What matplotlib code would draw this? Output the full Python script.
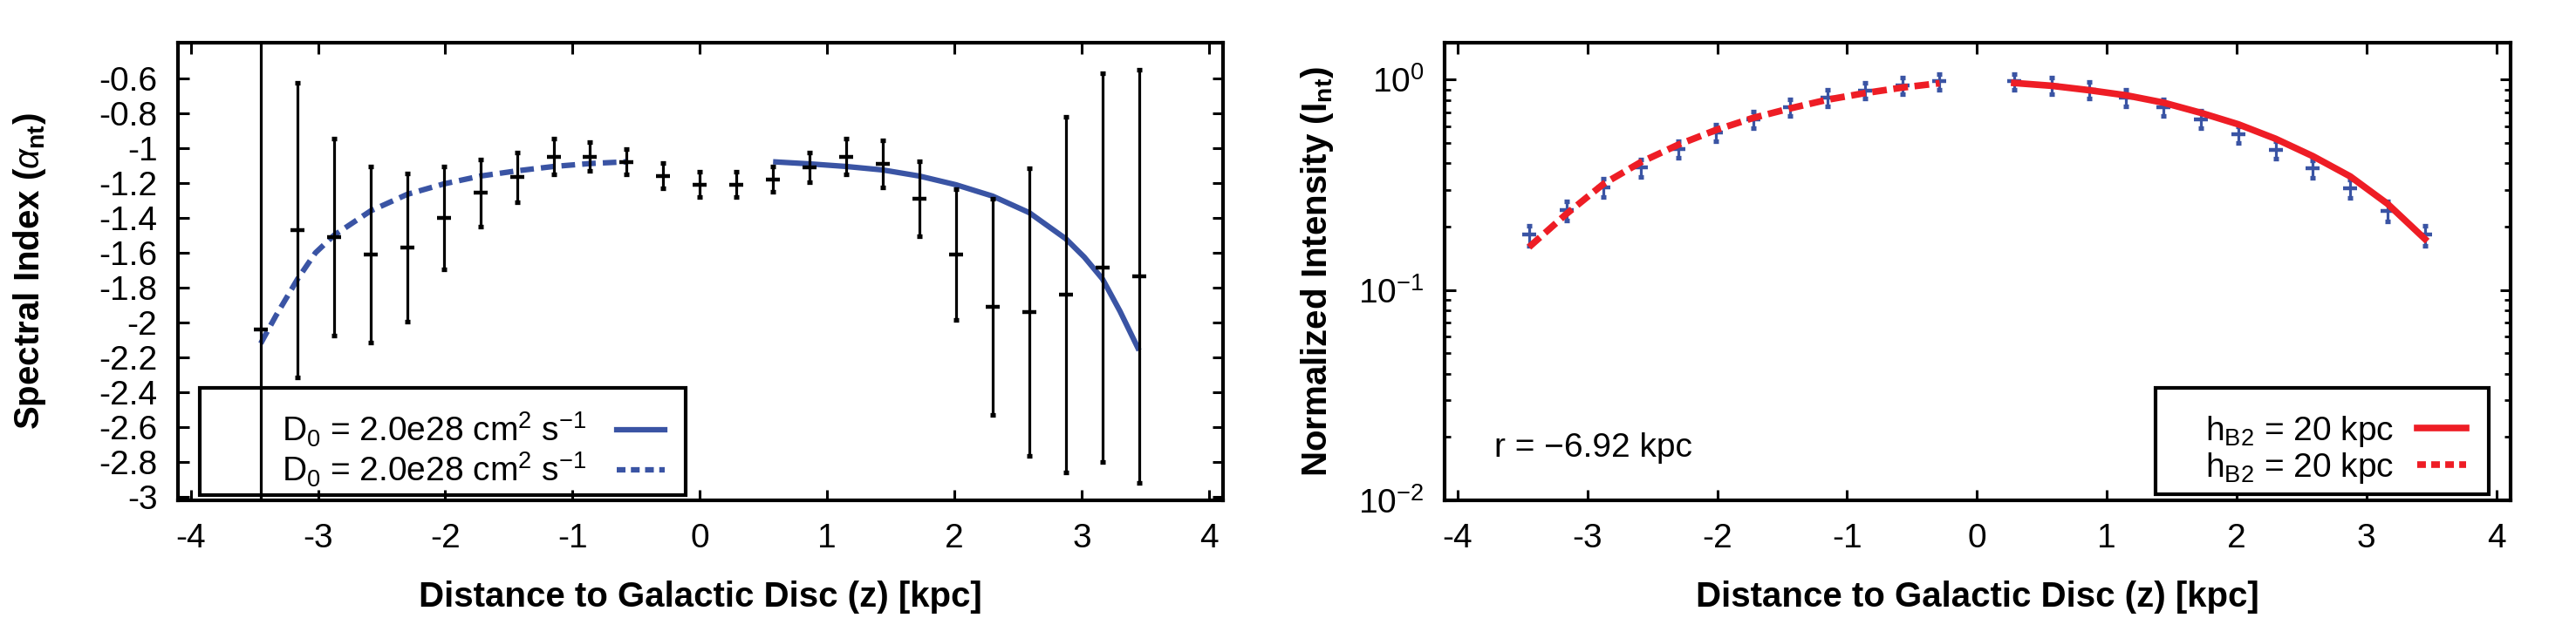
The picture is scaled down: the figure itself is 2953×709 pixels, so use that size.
import numpy as np
import matplotlib
matplotlib.use("Agg")
import matplotlib.pyplot as plt
from matplotlib.lines import Line2D
from matplotlib.patches import Rectangle

plt.rcParams['font.family'] = ['Liberation Sans', 'DejaVu Sans']
plt.rcParams['mathtext.fontset'] = 'custom'
plt.rcParams['mathtext.rm'] = 'Liberation Sans'
plt.rcParams['mathtext.it'] = 'Liberation Sans:italic'
plt.rcParams['mathtext.bf'] = 'Liberation Sans:bold'

BLUE = '#3a54a4'
RED = '#ee1d25'

## left panel: spectral index data
z_all = [-3.45, -3.1625, -2.875, -2.5875, -2.3, -2.0125, -1.725, -1.4375, -1.15, -0.8625, -0.575, -0.2875,
         0.0, 0.2875, 0.575, 0.8625, 1.15, 1.4375, 1.725, 2.0125, 2.3, 2.5875, 2.875, 3.1625, 3.45]
alpha = [-2.04, -1.47, -1.508, -1.609, -1.569, -1.40, -1.257, -1.167, -1.048, -1.048, -1.078, -1.158,
         -1.208, -1.208, -1.178, -1.111, -1.048, -1.089, -1.288, -1.609, -1.912, -1.939, -1.84, -1.687, -1.737]
alpha_err = [2.2, 0.845, 0.565, 0.505, 0.426, 0.295, 0.193, 0.142, 0.103, 0.083, 0.073, 0.072,
             0.074, 0.074, 0.073, 0.085, 0.103, 0.135, 0.215, 0.374, 0.62, 0.824, 1.02, 1.115, 1.185]

z_fit_lo = [-3.45, -3.33, -3.16, -3.02, -2.875, -2.5875, -2.3, -2.0125, -1.725, -1.4375, -1.15, -0.8625, -0.575]
a_fit_lo = [-2.12, -1.96, -1.75, -1.60, -1.50, -1.36, -1.265, -1.205, -1.16, -1.13, -1.105, -1.088, -1.078]
z_fit_up = [0.575, 0.8625, 1.15, 1.4375, 1.725, 2.0125, 2.3, 2.5875, 2.875, 3.02, 3.1625, 3.30, 3.45]
a_fit_up = [-1.078, -1.09, -1.105, -1.125, -1.16, -1.21, -1.275, -1.37, -1.52, -1.625, -1.75, -1.935, -2.16]

## right panel: normalized intensity
z_lo = [-3.45, -3.1625, -2.875, -2.5875, -2.3, -2.0125, -1.725, -1.4375, -1.15, -0.8625, -0.575, -0.2875]
I_lo = [0.183, 0.239, 0.308, 0.382, 0.468, 0.561, 0.647, 0.740, 0.822, 0.891, 0.942, 0.982]
I_lo_err = [0.02, 0.025, 0.03, 0.036, 0.044, 0.052, 0.06, 0.066, 0.074, 0.08, 0.084, 0.086]
z_up = [0.2875, 0.575, 0.8625, 1.15, 1.4375, 1.725, 2.0125, 2.3, 2.5875, 2.875, 3.1625, 3.45]
I_up = [0.981, 0.942, 0.892, 0.821, 0.738, 0.650, 0.549, 0.464, 0.379, 0.305, 0.238, 0.183]
I_up_err = [0.086, 0.084, 0.08, 0.074, 0.066, 0.06, 0.05, 0.044, 0.036, 0.03, 0.025, 0.02]

I_fit_lo = [0.160, 0.230, 0.320, 0.406, 0.491, 0.576, 0.658, 0.731, 0.804, 0.864, 0.918, 0.963]
I_fit_up = [0.965, 0.936, 0.892, 0.843, 0.778, 0.696, 0.614, 0.524, 0.433, 0.347, 0.257, 0.175]

xticks = [-4, -3, -2, -1, 0, 1, 2, 3, 4]
xticklabels = ['-4', '-3', '-2', '-1', '0', '1', '2', '3', '4']
yticks_l = [-0.6, -0.8, -1.0, -1.2, -1.4, -1.6, -1.8, -2.0, -2.2, -2.4, -2.6, -2.8, -3.0]
yticklabels_l = ['-0.6', '-0.8', '-1', '-1.2', '-1.4', '-1.6', '-1.8', '-2', '-2.2', '-2.4', '-2.6', '-2.8', '-3']

fig = plt.figure(figsize=(29.53, 7.09), dpi=100)
ax1 = fig.add_axes([0.0691, 0.1904, 0.4057, 0.7405])
ax2 = fig.add_axes([0.5608, 0.1904, 0.4138, 0.7405])

tick_fs = 28
leg_fs = 28
lab_fs = 29

for ax in (ax1, ax2):
    for s in ax.spines.values():
        s.set_linewidth(3.0)
    ax.tick_params(which='major', direction='in', length=9, width=2.2, top=True, right=True,
                   labelsize=tick_fs, pad=17)
    ax.tick_params(which='minor', direction='in', length=5, width=2.0, top=True, right=True)
    ax.set_xlim(-4.1, 4.11)
    ax.set_xticks(xticks)
    ax.set_xticklabels(xticklabels)
    ax.tick_params(axis='x', pad=19)

# ---- left panel
ax1.errorbar(z_all, alpha, yerr=alpha_err, fmt='none', ecolor='black', elinewidth=2.3,
             capsize=2.5, capthick=3.8, zorder=4)
ax1.plot(z_all, alpha, linestyle='none', marker='_', markersize=11, markeredgewidth=3.2,
         color='black', zorder=4)
ax1.plot(z_fit_up, a_fit_up, color=BLUE, lw=4.5, solid_capstyle='butt', zorder=3)
ax1.plot(z_fit_lo, a_fit_lo, color=BLUE, lw=4.5, dashes=(2.5, 1.3), zorder=3)
ax1.set_ylim(-3.02, -0.395)
ax1.set_yticks(yticks_l)
ax1.set_yticklabels(yticklabels_l)
ax1.set_xlabel('Distance to Galactic Disc (z) [kpc]', fontsize=lab_fs, fontweight='bold')
ax1.set_ylabel(r'Spectral Index ($\alpha_{\mathbf{nt}}$)', fontsize=lab_fs, fontweight='bold')
ax1.xaxis.set_label_coords(0.5, -0.175)
ax1.yaxis.set_label_coords(-0.124, 0.5)

# key box drawn separately, entries right-justified like gnuplot
ax1.add_patch(Rectangle((0.021, 0.011), 0.465, 0.235, transform=ax1.transAxes, fill=False,
                        edgecolor='black', linewidth=3.0, zorder=2))
h1 = [Line2D([], [], color=BLUE, lw=4.5),
      Line2D([], [], color=BLUE, lw=4.5, dashes=(1.6, 1.0))]
lab = r'D$_0$ = 2.0e28 cm$^2$ s$^{\mathregular{-1}}$'
leg1 = ax1.legend(h1, [lab, lab], loc='center right', bbox_to_anchor=(0.466, 0.111),
                  markerfirst=False, fontsize=leg_fs, handlelength=1.42, frameon=False,
                  borderpad=0, labelspacing=0.05, handletextpad=0.9, borderaxespad=0)
leg1.set_zorder(2)

# ---- right panel
ax2.set_yscale('log')
ax2.errorbar(z_lo, I_lo, yerr=I_lo_err, fmt='none', ecolor=BLUE, elinewidth=2.3,
             capsize=2.5, capthick=3.8, zorder=3)
ax2.errorbar(z_up, I_up, yerr=I_up_err, fmt='none', ecolor=BLUE, elinewidth=2.3,
             capsize=2.5, capthick=3.8, zorder=3)
ax2.plot(z_lo + z_up, I_lo + I_up, linestyle='none', marker='_', markersize=11,
         markeredgewidth=3.2, color=BLUE, zorder=3)
ax2.plot(z_up, I_fit_up, color=RED, lw=5.5, zorder=4)
ax2.plot(z_lo, I_fit_lo, color=RED, lw=5.5, dashes=(2.2, 1.0), zorder=4)
ax2.set_ylim(0.01, 1.5)
ax2.set_yticks([0.01, 0.1, 1.0])
ax2.set_yticklabels([r'10$^{\mathregular{-2}}$', r'10$^{\mathregular{-1}}$', r'10$^{\mathregular{0}}$'])
ax2.set_xlabel('Distance to Galactic Disc (z) [kpc]', fontsize=lab_fs, fontweight='bold')
ax2.set_ylabel(r'Normalized Intensity (I$_{\mathbf{nt}}$)', fontsize=lab_fs, fontweight='bold')
ax2.xaxis.set_label_coords(0.5, -0.175)
ax2.yaxis.set_label_coords(-0.102, 0.5)
ax2.text(0.047, 0.114, 'r = \u22126.92 kpc', transform=ax2.transAxes, fontsize=leg_fs,
         ha='left', va='center')

ax2.add_patch(Rectangle((0.667, 0.013), 0.3125, 0.233, transform=ax2.transAxes, facecolor='white',
                        edgecolor='black', linewidth=3.0, zorder=5))
h2 = [Line2D([], [], color=RED, lw=5.5),
      Line2D([], [], color=RED, lw=5.5, dashes=(1.3, 0.8))]
lab2 = r'h$_{\mathregular{B2}}$ = 20 kpc'
leg2 = ax2.legend(h2, [lab2, lab2], loc='center right', bbox_to_anchor=(0.958, 0.111),
                  markerfirst=False, fontsize=leg_fs, handlelength=1.42, frameon=False,
                  borderpad=0, labelspacing=0.05, handletextpad=0.7, borderaxespad=0)
leg2.set_zorder(6)

fig.savefig('out.png', dpi=100)
